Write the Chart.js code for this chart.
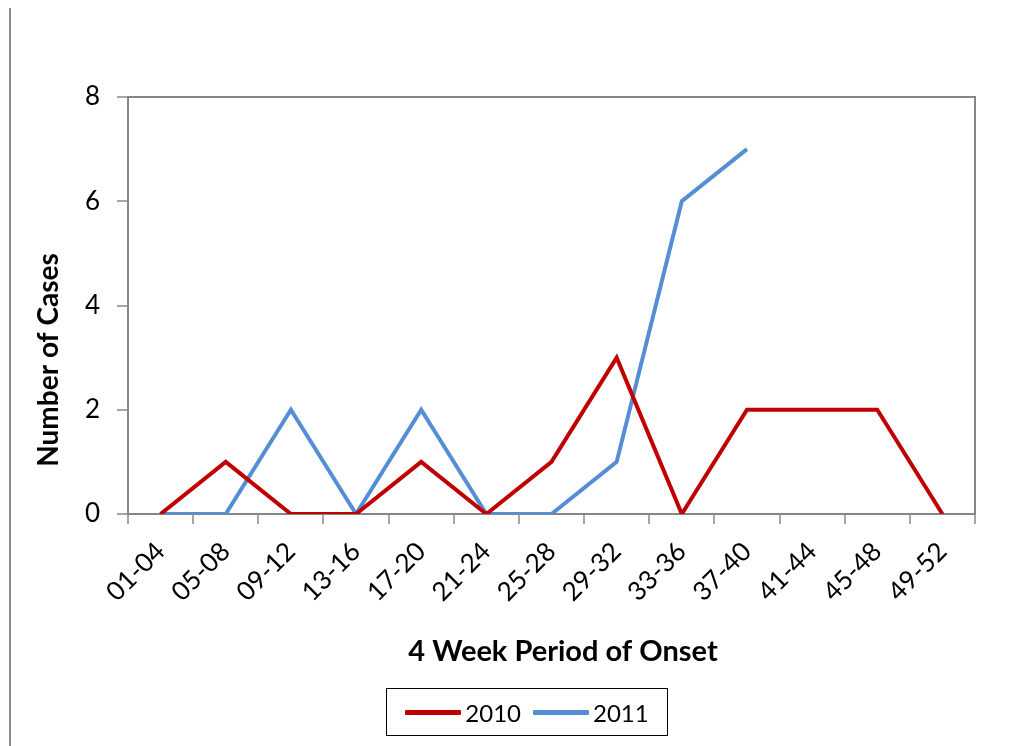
<!DOCTYPE html>
<html>
<head>
<meta charset="utf-8">
<script src="https://cdn.jsdelivr.net/npm/chart.js@4/dist/chart.umd.min.js"></script>
<style>
  html, body { margin: 0; padding: 0; background: #fff; }
  #wrap { position: relative; width: 1034px; height: 746px; overflow: hidden; }
  #chart { position: absolute; left: 0; top: 0; }
  #edge { position: absolute; left: 9px; top: 8px; width: 2px; height: 740px; background: #8c8c8c; }
  #legend {
    position: absolute; left: 386px; top: 688px; width: 282px; height: 48px;
    border: 1px solid #000; box-sizing: border-box;
    display: flex; align-items: center; justify-content: center;
    font-family: Lato, "Open Sans", sans-serif; font-size: 24px; color: #000;
  }
  .item { display: flex; align-items: center; margin: 0 6px; }
  .swatch { width: 56px; height: 5px; margin-right: 4px; border-radius: 1px; }
</style>
</head>
<body>
<div id="wrap">
  <div id="edge"></div>
  <canvas id="chart" width="1034" height="746"></canvas>
  <div id="legend"></div>
</div>
<script>
// Data
const periods = ['01-04', '05-08', '09-12', '13-16', '17-20', '21-24', '25-28',
                 '29-32', '33-36', '37-40', '41-44', '45-48', '49-52'];
const cases2010 = [0, 1, 0, 0, 1, 0, 1, 3, 0, 2, 2, 2, 0];
const cases2011 = [0, 0, 2, 0, 2, 0, 0, 1, 6, 7, null, null, null];
const seriesNames = ['2010', '2011'];
const seriesColors = ['#C00000', '#558ED5'];
const yTicks = [0, 2, 4, 6, 8];

const FONT = 'Lato, "Open Sans", sans-serif';

// Legend (HTML, boxed like the Excel one)
const legendDiv = document.getElementById('legend');
seriesNames.forEach((name, i) => {
    const item = document.createElement('div');
    item.className = 'item';
    item.innerHTML = '<span class="swatch" style="background:' + seriesColors[i] + '"></span>' + name;
    legendDiv.appendChild(item);
});

// Plot frame on top and right, plus both axis titles placed like the original
const framePlugin = {
    id: 'frame',
    afterDraw(chart) {
        const { ctx, chartArea: a } = chart;
        ctx.save();
        ctx.strokeStyle = '#868686';
        ctx.lineWidth = 2;
        ctx.beginPath();
        ctx.moveTo(a.left, a.top);
        ctx.lineTo(a.right, a.top);
        ctx.lineTo(a.right, a.bottom);
        ctx.stroke();
        ctx.restore();

        ctx.save();
        ctx.fillStyle = '#000';
        ctx.textAlign = 'center';
        ctx.textBaseline = 'middle';
        ctx.font = 'bold 29px ' + FONT;
        ctx.fillText('4 Week Period of Onset', 563, 652);
        ctx.translate(49, 360);
        ctx.rotate(-Math.PI / 2);
        ctx.font = 'bold 28px ' + FONT;
        ctx.fillText('Number of Cases', 0, 0);
        ctx.restore();
    }
};

new Chart(document.getElementById('chart'), {
    type: 'line',
    data: {
        labels: periods,
        datasets: [
            { label: seriesNames[0], data: cases2010, borderColor: seriesColors[0], backgroundColor: seriesColors[0] },
            { label: seriesNames[1], data: cases2011, borderColor: seriesColors[1], backgroundColor: seriesColors[1] }
        ]
    },
    options: {
        responsive: false,
        animation: false,
        layout: { padding: { top: 97, right: 59, bottom: 78, left: 0 } },
        elements: {
            line: { borderWidth: 4, tension: 0 },
            point: { radius: 0, hoverRadius: 0 }
        },
        plugins: {
            legend: { display: false },
            tooltip: { enabled: false }
        },
        scales: {
            x: {
                offset: true,
                grid: { offset: true, drawOnChartArea: false, tickLength: 10, color: '#a6a6a6', lineWidth: 2 },
                border: { display: true, color: '#868686', width: 2 },
                ticks: {
                    maxRotation: 45, minRotation: 45, padding: 12,
                    color: '#000', font: { family: FONT, size: 26 }
                },
                afterFit(s) { s.height = 154; }
            },
            y: {
                min: 0, max: 8,
                afterBuildTicks(s) { s.ticks = yTicks.map(v => ({ value: v })); },
                grid: { drawOnChartArea: false, tickLength: 11, color: '#a6a6a6', lineWidth: 2 },
                border: { display: true, color: '#868686', width: 2 },
                ticks: { padding: 17, color: '#000', font: { family: FONT, size: 26 } },
                afterFit(s) { s.width = 128; }
            }
        }
    },
    plugins: [framePlugin]
});
</script>
</body>
</html>
